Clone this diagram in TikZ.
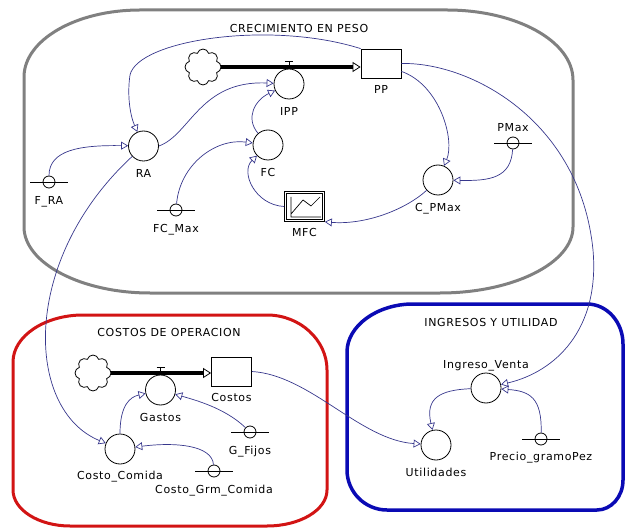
\documentclass[tikz,border=0pt]{standalone}
\usepackage{fontspec}
\newfontfamily\vfont{DejaVu Sans}[LetterSpace=6]
\usetikzlibrary{arrows.meta,shapes.symbols}
\definecolor{linkblue}{RGB}{55,55,140}
\definecolor{sectorgray}{RGB}{128,128,128}
\definecolor{sectorred}{RGB}{210,20,20}
\definecolor{sectorblue}{RGB}{10,10,180}

\begin{document}
\begin{tikzpicture}[
  x = 1pt, y = -1pt,
  font = \vfont\fontsize{11}{13}\selectfont,
  every label/.style = {text height = 8pt, text depth = 2pt, inner sep = 2pt, label distance = 6pt},
  aux/.style = {circle, draw, line width = 0.8pt, minimum size = 30pt, inner sep = 0pt},
  stock/.style = {draw, line width = 0.8pt, minimum width = 40pt, minimum height = 29pt},
  cnst/.style = {circle, draw, line width = 0.8pt, minimum size = 12pt, inner sep = 0pt},
  source/.style = {cloud, cloud puffs = 8, aspect = 1, draw, line width = 0.8pt, minimum size = 36pt, inner sep = 0pt},
  lookup/.style = {draw, line width = 0.7pt, minimum width = 40pt, minimum height = 30pt},
  link/.style = {draw = linkblue, line width = 0.7pt, -{Triangle[open, length = 7pt, width = 8pt, line width = 0.7pt]}},
  pipe/.style = {line width = 3.5pt, -{Triangle[open, length = 8pt, width = 10pt, line width = 0.8pt]}},
  sector/.style = {line width = 3pt},
  ]
  \useasboundingbox (0,0) rectangle (626,529);

  \draw[sector, sectorgray] (140,10) -- (447,10) .. controls (516,10) and (573,41) .. (573,80)
    -- (573,227) .. controls (573,263) and (513,293) .. (440,293)
    -- (150,293) .. controls (81,293) and (24,263) .. (24,227)
    -- (24,77) .. controls (24,40) and (76,10) .. cycle;
  \draw[sector, sectorred] (83,315) -- (267,315) .. controls (300,315) and (327,340) .. (327,370)
    -- (327,490) .. controls (327,510) and (300,526) .. (267,526)
    -- (70,526) .. controls (39,526) and (13,510) .. (13,490)
    -- (13,362) .. controls (13,336) and (45,315) .. cycle;
  \draw[sector, sectorblue, line width = 3.5pt] (413,304) -- (587,304) .. controls (607,304) and (623,322) .. (623,344)
    -- (623,480) .. controls (623,497) and (611,510) .. (597,510)
    -- (387,510) .. controls (365,510) and (347,492) .. (347,470)
    -- (347,352) .. controls (347,326) and (377,304) .. cycle;

  \node (tCrec) at (299,28) {CRECIMIENTO EN PESO};
  \node (tCostos) at (169,332) {COSTOS DE OPERACION};
  \node (tIngr) at (491,322) {INGRESOS Y UTILIDAD};

  \node[source] (nube1) at (203,67) {};
  \node[aux, label = {below:IPP}] (IPP) at (289,84) {};
  \node[stock, label = {[label distance = 4.5pt]below:PP}] (PP) at (381,63.5) {};
  \node[aux, label = {below:RA}] (RA) at (143.5,146) {};
  \node[aux, label = {below:FC}] (FC) at (268,145) {};
  \node[cnst, label = {below:F\_RA}] (FRA) at (49,182) {};
  \node[cnst, label = {below:FC\_Max}] (FCMax) at (176,210) {};
  \node[lookup, label = {[label distance = 4.5pt]below:MFC}] (MFC) at (304.5,206.5) {};
  \node[aux, label = {below:C\_PMax}] (CPMax) at (438,180) {};
  \node[cnst, label = {[label distance = 1pt]above:PMax}] (PMax) at (513,143) {};

  \node[source] (nube2) at (93,373) {};
  \node[aux, label = {below:Gastos}] (Gastos) at (160.5,390) {};
  \node[stock, label = {[label distance = 5pt]below:Costos}] (Costos) at (231.5,371.5) {};
  \node[aux, label = {[label distance = 5pt]below:Costo\_Comida}] (CComida) at (120,449) {};
  \node[cnst, label = {below:G\_Fijos}] (GFijos) at (250,432) {};
  \node[cnst, label = {below:Costo\_Grm\_Comida}] (CGrm) at (214,471) {};

  \node[aux, label = {[label distance = 0pt]above:Ingreso\_Venta}] (Ingreso) at (486,388) {};
  \node[aux, label = {below:Utilidades}] (Util) at (436,445) {};
  \node[cnst, label = {[label distance = 5pt]below:Precio\_gramoPez}] (Precio) at (541,439) {};

  \foreach \c in {FRA, FCMax, PMax, GFijos, CGrm, Precio}
    \draw[line width = 0.8pt] ([xshift = -19pt]\c.center) -- ([xshift = 19pt]\c.center);

  \draw[line width = 0.7pt] ([shift = {(2.5,2.5)}]MFC.north west) rectangle ([shift = {(-2.5,-2.5)}]MFC.south east);
  \draw[line width = 0.7pt, shift = {(MFC.center)}] (-13.5,-9.5) -- (-13.5,10.5) -- (16.5,10.5)
    (-13.5,7.5) -- (-1.5,-6.5) -- (6.5,-0.5) -- (15.5,-9.5);

  \draw[pipe] (nube1.east) -- (nube1.east -| PP.west);
  \draw[line width = 0.8pt] (IPP.north |- nube1.east) -- ++(0,-6) ++(-4,0) -- ++(8,0);
  \draw[pipe] (nube2.east) -- (nube2.east -| Costos.west);
  \draw[line width = 0.8pt] (Gastos.north |- nube2.east) -- ++(0,-6) ++(-4,0) -- ++(8,0);

  \draw[link] (PP.north west) .. controls (270,20) and (138,40) .. (130,75) .. controls (127,95) and (130,115) .. (RA);
  \draw[link] (RA.east) .. controls (190,135) and (200,80) .. (IPP);
  \draw[link] (FC) .. controls (245,118) and (255,100) .. (IPP);
  \draw[link] (FRA) .. controls (49,150) and (80,145) .. (RA);
  \draw[link] (FCMax) .. controls (180,165) and (215,138) .. (FC);
  \draw[link] (MFC.west) .. controls (255,205) and (240,172) .. (FC);
  \draw[link] (CPMax) .. controls (405,210) and (365,225) .. (MFC.south east);
  \draw[link] ([yshift = 7pt]PP.south east) .. controls (440,85) and (455,140) .. (CPMax);
  \draw[link] (PMax) .. controls (511,178) and (490,181) .. (CPMax);
  \draw[link] (PP.east) .. controls (470,62) and (580,120) .. (593,250) .. controls (600,330) and (555,372) .. (Ingreso);
  \draw[link] (RA) .. controls (20,260) and (25,410) .. (CComida);

  \draw[link] (CComida) .. controls (120,405) and (130,397) .. (Gastos);
  \draw[link] (GFijos) .. controls (225,408) and (195,400) .. (Gastos);
  \draw[link] (CGrm) .. controls (212,445) and (175,442) .. (CComida);
  \draw[link] (Costos.east) .. controls (310,375) and (360,440) .. (Util);

  \draw[link] (Ingreso) .. controls (440,390) and (425,398) .. (Util);
  \draw[link] (Precio) .. controls (542,398) and (530,391) .. (Ingreso);
\end{tikzpicture}
\end{document}
